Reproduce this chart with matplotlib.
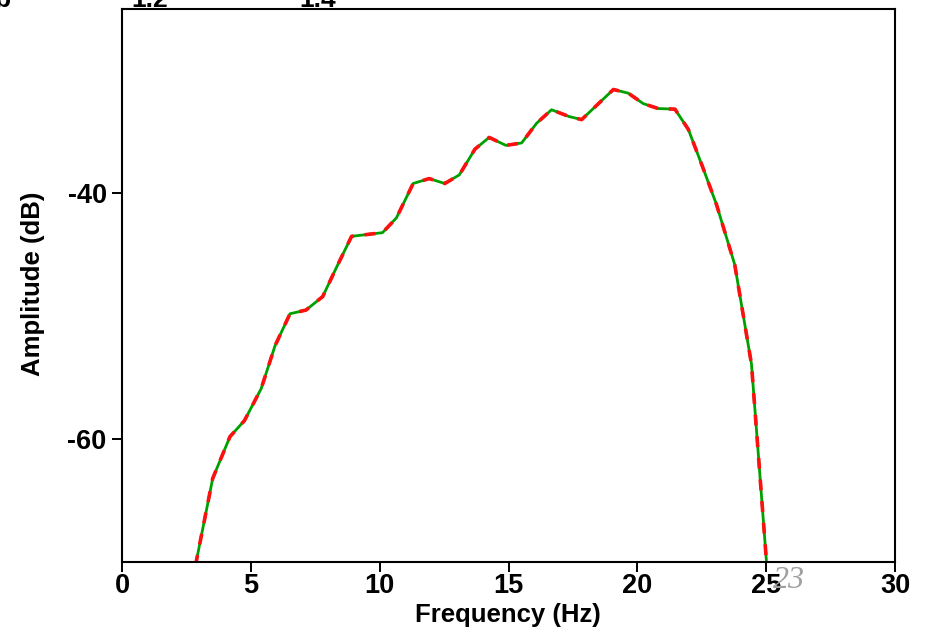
import matplotlib.pyplot as plt

plt.rcParams['font.family'] = ['Liberation Sans', 'DejaVu Sans']
plt.rcParams['font.weight'] = 'bold'

# spectrum (Hz, dB)
freq = [2.85, 3.52, 4.19, 4.75, 5.40, 5.94, 6.52, 7.14, 7.79, 8.33, 8.91, 9.51,
        10.11, 10.65, 11.30, 11.92, 12.53, 13.09, 13.70, 14.25, 14.90, 15.51,
        16.09, 16.67, 17.35, 17.84, 18.29, 19.07, 19.65, 20.23, 20.81, 21.46,
        21.98, 22.56, 23.07, 23.78, 24.43, 25.02]
amp_green = [-70.3, -63.2, -59.8, -58.5, -55.9, -52.4, -49.8, -49.5, -48.4, -46.0,
             -43.5, -43.35, -43.2, -42.0, -39.2, -38.8, -39.2, -38.5, -36.4, -35.45,
             -36.1, -35.9, -34.3, -33.2, -33.75, -34.0, -33.1, -31.55, -31.85, -32.7,
             -33.1, -33.15, -34.8, -38.0, -40.9, -45.8, -53.9, -70.2]
amp_red = list(amp_green)

xticks = [0, 5, 10, 15, 20, 25, 30]
yticks = [-60, -40]
ytick_labels = ['-60', '-40']

fig = plt.figure(figsize=(9.3, 6.34), dpi=100)
ax = fig.add_axes([122 / 930, 1 - 562 / 634, 773 / 930, 553 / 634])

ax.plot(freq, amp_green, color='#00a000', lw=2.0)
ax.plot(freq, amp_red, color='#ff1010', lw=2.6, dashes=(3, 3))

ax.set_xlim(0, 30)
ax.set_ylim(-70, -25)
ax.set_xticks(xticks)
ax.set_xticklabels([str(t) for t in xticks])
ax.set_yticks(yticks)
ax.set_yticklabels(ytick_labels)
ax.tick_params(direction='out', length=7, width=1.4, labelsize=19.5, color='black')
ax.tick_params(axis='x', pad=1)
ax.tick_params(axis='y', pad=4)
for s in ax.spines.values():
    s.set_linewidth(1.5)

fig.text(508 / 930, 1 - 615 / 634, 'Frequency (Hz)', ha='center', va='center',
         fontsize=18.5, fontweight='bold')
fig.text(33 / 930, 1 - 284 / 634, 'Amplitude (dB)', ha='center', va='center',
         rotation=90, fontsize=18.5, fontweight='bold')

# remnants of the panel above, cut off by the crop
fig.text(150 / 930, 1 - 12 / 634, '1.2', ha='center', va='bottom', fontsize=19)
fig.text(318 / 930, 1 - 12 / 634, '1.4', ha='center', va='bottom', fontsize=19)
fig.text(-6 / 930, 1 - 12 / 634, 'b', ha='left', va='bottom', fontsize=19)

# page number bleeding into the figure
fig.text(789 / 930, 1 - 580 / 634, '23', ha='center', va='center', fontsize=23,
         family='Liberation Serif', style='italic', fontweight='normal', color='#a0a0a0')

fig.savefig('out.png', dpi=100)
